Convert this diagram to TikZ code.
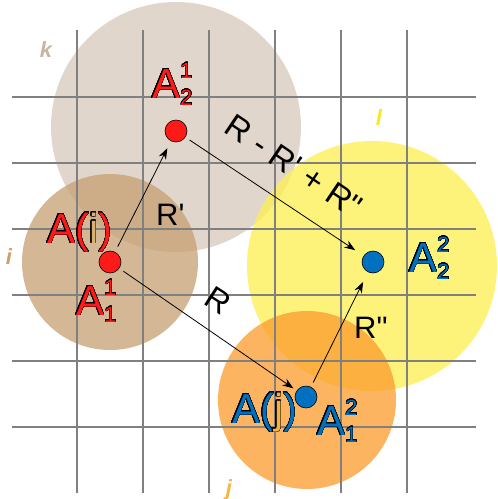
\documentclass[tikz,border=0pt]{standalone}
\usepackage{fontspec}
\setmainfont{Liberation Sans}
\usepackage{contour}
\contourlength{0.45pt}
\contournumber{32}
\usetikzlibrary{arrows.meta}
\definecolor{circk}{HTML}{C4AE97}
\definecolor{circi}{HTML}{C69F72}
\definecolor{circl}{HTML}{FDEF59}
\definecolor{circj}{HTML}{FC9B2C}
\definecolor{gridc}{HTML}{808080}
\definecolor{redt}{HTML}{FF1A1A}
\definecolor{bluet}{HTML}{0070C0}
\definecolor{tant}{HTML}{D8B070}
\definecolor{orat}{HTML}{F5B040}
\definecolor{labk}{HTML}{C9B59F}
\definecolor{labl}{HTML}{F8E81E}
\definecolor{labi}{HTML}{CF9F6A}
\definecolor{labj}{HTML}{F5B73F}
\newcommand\olt[2]{\contour{black}{\textcolor{#1}{#2}}}
\newcommand\scrf{\fontsize{22}{22}\selectfont}
\newcommand\Alab[3]{\olt{#1}{A}\makebox[0pt][l]{\raisebox{20pt}{\scrf\olt{#1}{#2}}}\raisebox{-7pt}{\scrf\olt{#1}{#3}}}
\tikzset{
  gridline/.style={draw=gridc,line width=1.4pt},
  arr/.style={draw=black,line width=0.8pt,-{Stealth[length=11pt,width=8pt]}},
  reddot/.style={circle,draw=black,line width=0.6pt,fill=redt,minimum size=22pt,inner sep=0pt},
  bluedot/.style={circle,draw=black,line width=0.6pt,fill=bluet,minimum size=22pt,inner sep=0pt},
  biglab/.style={inner sep=0pt,anchor=base west,font=\fontsize{42}{48}\selectfont},
  rlab/.style={inner sep=0pt,font=\fontsize{31}{36}\selectfont},
  small/.style={inner sep=0pt,font=\fontsize{22}{24}\selectfont\bfseries\itshape}
}
\begin{document}
\begin{tikzpicture}[x=1pt,y=-1pt]
\useasboundingbox (0,0) rectangle (498,499);
% circles
\fill[circk,opacity=0.5] (176,127) circle (125);
\fill[circi,opacity=0.75] (110,262) circle (88);
\fill[circl,opacity=0.8] (372,266) circle (125);
\fill[circj,opacity=0.75] (307,400) circle (89);
% grid
\foreach \x in {77,143,209,275,341,407} \draw[gridline] (\x,30) -- (\x,493);
\foreach \y in {97,163,229,295,361,427} \draw[gridline] (12,\y) -- (476,\y);
% dots
\node[reddot] (ai) at (110,262) {};
\node[reddot] (a21) at (176,131) {};
\node[bluedot] (a22) at (373,262) {};
\node[bluedot] (a12) at (306,397) {};
% arrows
\draw[arr,shorten <=6pt,shorten >=8pt] (ai) -- (a21);
\draw[arr,shorten <=5pt,shorten >=10pt] (a21) -- (a22);
\draw[arr,shorten <=5pt,shorten >=4pt] (ai) -- (a12);
\draw[arr,shorten <=5pt,shorten >=11pt] (a12) -- (a22);
% labels
\node[biglab] (lA21) at (152,98) {\Alab{redt}{1}{2}};
\node[biglab] (lAi) at (47,243) {\olt{redt}{A(}\olt{tant}{i}\olt{redt}{)}};
\node[biglab] (lA11) at (76,315) {\Alab{redt}{1}{1}};
\node[biglab] (lA22) at (409,272) {\Alab{bluet}{2}{2}};
\node[biglab] (lAj) at (232,423) {\olt{bluet}{A(}\olt{orat}{j}\olt{bluet}{)}};
\node[biglab] (lA12) at (317,435) {\Alab{bluet}{2}{1}};
\node[rlab,anchor=base west] (lRp) at (156,225) {R\textquotesingle};
\node[rlab,anchor=base west] (lRpp) at (354,338) {R\textquotedbl};
\node[rlab,rotate=-33,font=\fontsize{32}{36}\selectfont] (lR) at (218,301) {R};
\node[rlab,rotate=-34,font=\fontsize{33}{36}\selectfont] (lRlong) at (294,166) {R - R\textquotesingle\ + R\textquotedbl};
\node[small,text=labk] (k) at (46,50) {k};
\node[small,text=labl] (l) at (379,118) {l};
\node[small,text=labi] (i) at (9,257) {i};
\node[small,text=labj] (j) at (229,490) {j};
\end{tikzpicture}
\end{document}
